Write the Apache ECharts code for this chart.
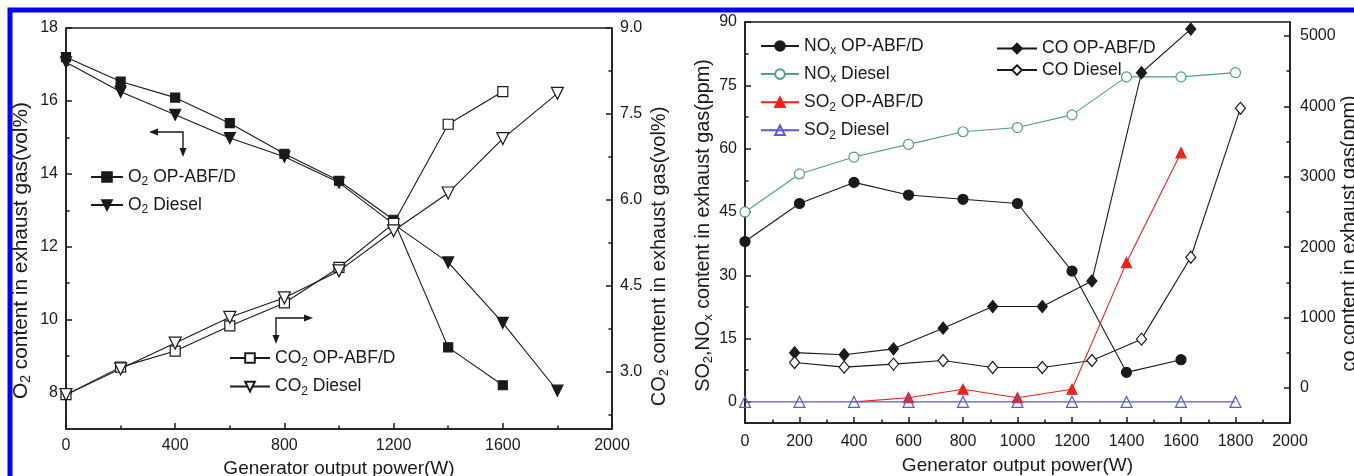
<!DOCTYPE html>
<html><head><meta charset="utf-8">
<script src="https://cdn.jsdelivr.net/npm/echarts@6/dist/echarts.min.js"></script>
<style>html,body{margin:0;padding:0;background:#fff}#c{width:1354px;height:476px}</style>
</head><body><div id="c"></div>
<script>
// ---------- data: left panel ----------
const powerO2Op = [0, 200, 400, 600, 800, 1000, 1200, 1400, 1600];
const o2Op = [17.2, 16.53, 16.09, 15.39, 14.55, 13.81, 12.74, 9.24, 8.2];
const powerO2Diesel = [0, 200, 400, 600, 800, 1000, 1200, 1400, 1600, 1800];
const o2Diesel = [17.06, 16.25, 15.62, 14.98, 14.47, 13.76, 12.62, 11.57, 9.91, 8.05];
const co2Op = [2.6, 3.08, 3.36, 3.80, 4.20, 4.82, 5.59, 7.32, 7.89];
const co2Diesel = [2.6, 3.05, 3.50, 3.95, 4.29, 4.76, 5.46, 6.12, 7.07, 7.86];

// ---------- data: right panel ----------
const powerNoxOp = [0, 200, 400, 600, 800, 1000, 1200, 1400, 1600];
const noxOp = [38, 47, 52, 49, 48, 47, 31, 7, 10];
const powerNoxDiesel = [0, 200, 400, 600, 800, 1000, 1200, 1400, 1600, 1800];
const noxDiesel = [45, 54, 58, 61, 64, 65, 68, 77, 77, 78];
const powerSo2Op = [400, 600, 800, 1000, 1200, 1400, 1600];
const so2Op = [0, 1, 3, 1, 3, 33, 59];
const powerSo2Diesel = [0, 200, 400, 600, 800, 1000, 1200, 1400, 1600, 1800];
const so2Diesel = [0, 0, 0, 0, 0, 0, 0, 0, 0, 0];
const powerCoOp = [182, 364, 545, 727, 909, 1091, 1273, 1455, 1636];
const coOp = [500, 470, 554, 848, 1155, 1155, 1520, 4479, 5099];
const powerCoDiesel = [182, 364, 545, 727, 909, 1091, 1273, 1455, 1636, 1818];
const coDiesel = [360, 294, 337, 388, 289, 289, 388, 692, 1856, 3973];

// ---------- tick values ----------
const o2Ticks = [8, 10, 12, 14, 16, 18];
const o2Minor = [9, 11, 13, 15, 17];
const co2Ticks = [3.0, 4.5, 6.0, 7.5, 9.0];
const co2Minor = [2.25, 3.75, 5.25, 6.75, 8.25];
const ppmTicks = [0, 15, 30, 45, 60, 75, 90];
const ppmMinor = [7.5, 22.5, 37.5, 52.5, 67.5, 82.5];
const coTicks = [0, 1000, 2000, 3000, 4000, 5000];
const coMinor = [500, 1500, 2500, 3500, 4500];

// ---------- styling ----------
const FONT = '"Liberation Sans", Arial, Helvetica, sans-serif';
const INK = '#1a1a1a';
const TEAL = '#4f9e91';
const RED = '#f0201c';
const BLUE = '#5a5ad2';

function zip(xs, ys) { return xs.map((x, i) => [x, ys[i]]); }
function rich(s) {
  return s.split(/_(\w)/).map((t, i) => i % 2 ? '{s|' + t + '}' : (t ? '{a|' + t + '}' : '')).join('');
}
function richStyles(size, lh) {
  return {
    a: { fontSize: size, fontFamily: FONT, color: INK, lineHeight: lh },
    s: { fontSize: Math.round(size * 0.66), fontFamily: FONT, color: INK, lineHeight: Math.round(size * 0.66), verticalAlign: 'bottom' }
  };
}

const tickLine = { color: INK, width: 1.5 };
function xAx(grid, interval, name, gap, margin) {
  return {
    type: 'value', gridIndex: grid, min: 0, max: 2000, interval: interval,
    axisLine: { show: true, onZero: false, lineStyle: tickLine },
    axisTick: { show: true, inside: true, length: 6, lineStyle: tickLine },
    minorTick: { show: true, splitNumber: 2, length: 3.5, lineStyle: tickLine },
    splitLine: { show: false }, minorSplitLine: { show: false },
    axisLabel: { fontSize: 16, fontFamily: FONT, color: INK, margin: margin, formatter: (v) => String(v) },
    name: name, nameLocation: 'middle', nameGap: gap,
    nameTextStyle: { fontSize: 19, fontFamily: FONT, color: INK }
  };
}
function yAx(grid, pos, min, max, ticks, fmt, name, gap, margin, shift, fs) {
  return {
    type: 'value', gridIndex: grid, position: pos, min: min, max: max,
    axisLine: { show: true, onZero: false, lineStyle: tickLine },
    axisTick: { show: true, inside: true, length: 6, customValues: ticks, lineStyle: tickLine },
    axisLabel: { customValues: ticks, fontSize: 16, fontFamily: FONT, color: INK, margin: margin, formatter: fmt },
    splitLine: { show: false },
    name: name, nameLocation: 'middle', nameGap: gap, nameRotate: 90,
    nameTextStyle: { rich: richStyles(fs, 24), padding: [0, shift * 2, 0, 0] }
  };
}
function yMinor(grid, pos, min, max, ticks) {
  return {
    type: 'value', gridIndex: grid, position: pos, min: min, max: max, offset: 0,
    axisLine: { show: false, onZero: false },
    axisTick: { show: true, inside: true, length: 3.5, customValues: ticks, lineStyle: tickLine },
    axisLabel: { show: false }, splitLine: { show: false }
  };
}

function ser(name, xi, yi, data, symbol, size, color, fill, extra) {
  return Object.assign({
    type: 'line', name: name, xAxisIndex: xi, yAxisIndex: yi, data: data,
    symbol: symbol, symbolSize: size, showSymbol: true,
    lineStyle: { color: color, width: 1.1 },
    itemStyle: { color: fill, borderColor: color, borderWidth: 1.2 },
    emphasis: { disabled: true }, animation: false
  }, extra || {});
}

const so2OpData = zip(powerSo2Op, so2Op).map((p, i) => i === 0 ? { value: p, symbolSize: 0 } : p);

const legendBase = {
  orient: 'vertical', padding: 0, itemHeight: 12, selectedMode: false,
  formatter: (n) => rich(n),
  textStyle: { rich: richStyles(17.5, 22) }
};

const option = {
  backgroundColor: '#ffffff',
  animation: false,
  grid: [
    { left: 66, top: 28, width: 546, height: 401, outerBoundsMode: 'none', containLabel: false, show: true, borderColor: INK, borderWidth: 1.5, backgroundColor: 'transparent' },
    { left: 745, top: 22, width: 545, height: 401, outerBoundsMode: 'none', containLabel: false, show: true, borderColor: INK, borderWidth: 1.5, backgroundColor: 'transparent' }
  ],
  xAxis: [
    xAx(0, 400, 'Generator output power(W)', 26, 9),
    xAx(1, 200, 'Generator output power(W)', 33, 11)
  ],
  yAxis: [
    yAx(0, 'left', 7, 18, o2Ticks, (v) => String(v), rich('O_2 content in exhaust gas(vol%)'), 33, 8, 22, 20.8),
    yMinor(0, 'left', 7, 18, o2Minor),
    yAx(0, 'right', 2, 9, co2Ticks, (v) => v.toFixed(1), rich('CO_2 content in exhaust gas(vol%)'), 35, 8, 28, 20),
    yMinor(0, 'right', 2, 9, co2Minor),
    yAx(1, 'left', -5, 90, ppmTicks, (v) => String(v), rich('SO_2,NO_x content in exhaust gas(ppm)'), 29, 8, 3, 19.8),
    yMinor(1, 'left', -5, 90, ppmMinor),
    yAx(1, 'right', -500, 5200, coTicks, (v) => String(v), rich('co content in exhaust gas(ppm)'), 47, 10, 11, 19.8),
    yMinor(1, 'right', -500, 5200, coMinor)
  ],
  legend: [
    Object.assign({}, legendBase, { data: ['O_2 OP-ABF/D', 'O_2 Diesel'], left: 90, top: 168, itemWidth: 32, itemGap: 8 }),
    Object.assign({}, legendBase, { data: ['CO_2 OP-ABF/D', 'CO_2 Diesel'], left: 229, top: 349, itemWidth: 40, itemGap: 8.6 }),
    Object.assign({}, legendBase, { data: ['NO_x OP-ABF/D', 'NO_x Diesel', 'SO_2 OP-ABF/D', 'SO_2 Diesel'], left: 760, top: 37, itemWidth: 38, itemGap: 8.1 }),
    Object.assign({}, legendBase, { data: ['CO OP-ABF/D', 'CO Diesel'], left: 996, top: 39.5, itemWidth: 40, itemGap: 3.6 })
  ],
  series: [
    ser('O_2 OP-ABF/D', 0, 0, zip(powerO2Op, o2Op), 'rect', 9, INK, INK),
    ser('O_2 Diesel', 0, 0, zip(powerO2Diesel, o2Diesel), 'triangle', 11, INK, INK, { symbolRotate: 180 }),
    ser('CO_2 OP-ABF/D', 0, 2, zip(powerO2Op, co2Op), 'rect', 10, INK, '#ffffff'),
    ser('CO_2 Diesel', 0, 2, zip(powerO2Diesel, co2Diesel), 'triangle', 12, INK, '#ffffff', { symbolRotate: 180 }),

    ser('NO_x OP-ABF/D', 1, 4, zip(powerNoxOp, noxOp), 'circle', 10, INK, INK),
    ser('NO_x Diesel', 1, 4, zip(powerNoxDiesel, noxDiesel), 'circle', 10, TEAL, '#ffffff'),
    ser('CO OP-ABF/D', 1, 6, zip(powerCoOp, coOp), 'diamond', [10, 12], INK, INK),
    ser('CO Diesel', 1, 6, zip(powerCoDiesel, coDiesel), 'diamond', [10, 12], INK, '#ffffff'),
    ser('SO_2 OP-ABF/D', 1, 4, so2OpData, 'triangle', 10, RED, RED),
    ser('SO_2 Diesel', 1, 4, zip(powerSo2Diesel, so2Diesel), 'triangle', 11, BLUE, 'rgba(255,255,255,0)')
  ],
  graphic: [
    { type: 'rect', silent: true, z: 100, shape: { x: 10, y: 10, width: 1400, height: 520 }, style: { fill: 'none', stroke: '#0000ff', lineWidth: 5 } },
    { type: 'polyline', silent: true, shape: { points: [[157, 132], [183, 132], [183, 149]] }, style: { fill: 'none', stroke: INK, lineWidth: 1.4 } },
    { type: 'polygon', silent: true, shape: { points: [[149, 132], [158, 128.5], [158, 135.5]] }, style: { fill: INK } },
    { type: 'polygon', silent: true, shape: { points: [[183, 157], [179.5, 148], [186.5, 148]] }, style: { fill: INK } },
    { type: 'polyline', silent: true, shape: { points: [[276, 336], [276, 318], [305, 318]] }, style: { fill: 'none', stroke: INK, lineWidth: 1.4 } },
    { type: 'polygon', silent: true, shape: { points: [[313, 318], [304, 314.5], [304, 321.5]] }, style: { fill: INK } },
    { type: 'polygon', silent: true, shape: { points: [[276, 344], [272.5, 335], [279.5, 335]] }, style: { fill: INK } }
  ]
};

const chart = echarts.init(document.getElementById('c'), null, { renderer: 'canvas' });
chart.setOption(option);
</script>
</body></html>
